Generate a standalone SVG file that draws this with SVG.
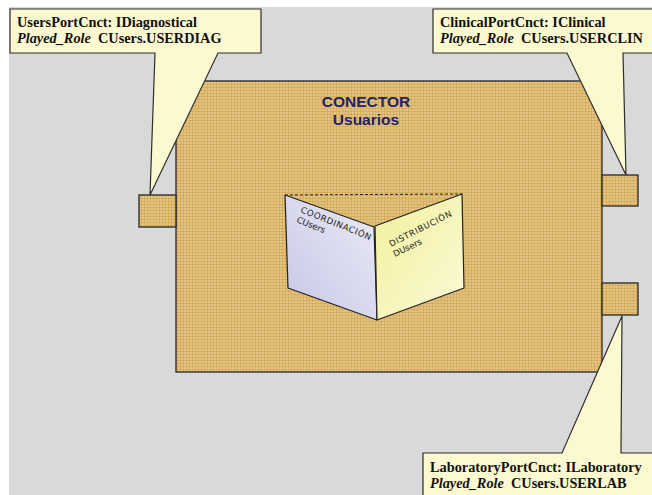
<svg xmlns="http://www.w3.org/2000/svg" width="652" height="495" viewBox="0 0 652 495">
  <style>
    .callout { fill: #fcf8d0; stroke: #2e2e2e; stroke-width: 1.2; stroke-linejoin: miter; }
    .lbl { font-family: "Liberation Serif", "Times New Roman", serif; font-size: 14.3px; font-weight: bold; fill: #111; white-space: pre; }
    .lbl .role { font-style: italic; }
    .block { fill: url(#plaid); stroke: #333; stroke-width: 1.4; }
    .title { font-family: "Liberation Sans", Arial, sans-serif; font-size: 15.5px; font-weight: bold; fill: #23236a; text-anchor: middle; }
    .page { stroke: #222; stroke-width: 1.2; stroke-linejoin: round; }
    .pagetxt { font-family: "DejaVu Sans", "Liberation Sans", sans-serif; font-size: 8.6px; fill: #222; }
    .pagehead { letter-spacing: 0.6px; }
  </style>
  <defs>
    <!-- tan checked fabric fill for the connector and its ports -->
    <pattern id="plaid" width="3" height="3" patternUnits="userSpaceOnUse">
      <rect width="3" height="3" fill="#e1c588"/>
      <rect width="3" height="1" fill="#d19e40" opacity="0.55"/>
      <rect width="1" height="3" fill="#d19e40" opacity="0.55"/>
    </pattern>
    <linearGradient id="lilac" x1="0" y1="1" x2="1" y2="0">
      <stop offset="0" stop-color="#c6c6e6"/>
      <stop offset="1" stop-color="#ebebf7"/>
    </linearGradient>
    <linearGradient id="lemon" x1="0" y1="0" x2="1" y2="1">
      <stop offset="0" stop-color="#f2f09c"/>
      <stop offset="1" stop-color="#fbfad8"/>
    </linearGradient>
  </defs>

  <!-- canvas -->
  <rect width="652" height="495" fill="#ffffff"/>
  <rect x="9" y="7" width="643" height="488" fill="#d9d9d9"/>

  <!-- connector body -->
  <g id="conector-usuarios">
    <rect class="block" x="176" y="81" width="426" height="291"/>
    <text class="title" x="366" y="107">CONECTOR</text>
    <text class="title" x="366" y="125">Usuarios</text>
  </g>

  <!-- ports -->
  <g id="port-users">
    <rect class="block" x="139" y="195" width="37" height="32"/>
  </g>
  <g id="port-clinical">
    <rect class="block" x="602" y="175" width="36" height="31"/>
  </g>
  <g id="port-laboratory">
    <rect class="block" x="602" y="283" width="36" height="32"/>
  </g>

  <!-- open book: coordination and distribution roles -->
  <g id="book">
    <line x1="285" y1="195" x2="462" y2="194" stroke="#222" stroke-width="1" stroke-dasharray="3,2"/>
    <g id="page-coordinacion">
      <polygon class="page" fill="url(#lilac)" points="285,195 374,227 377,320 288,288"/>
      <text class="pagetxt pagehead" transform="translate(300,212) rotate(22)">COORDINACIÓN</text>
      <text class="pagetxt" transform="translate(296,222) rotate(22)">CUsers</text>
    </g>
    <g id="page-distribucion">
      <polygon class="page" fill="url(#lemon)" points="375,226 462,194 464,288 377,320"/>
      <text class="pagetxt pagehead" transform="translate(391,247) rotate(-27)">DISTRIBUCIÓN</text>
      <text class="pagetxt" transform="translate(395,257) rotate(-26)">DUsers</text>
    </g>
  </g>

  <!-- callouts attached to the ports -->
  <g id="callout-users">
    <path class="callout" d="M10,9 H261 V53 H218 L150,195 L155,53 H10 Z"/>
    <text class="lbl" x="17" y="27">UsersPortCnct: IDiagnostical</text>
    <text class="lbl" x="17" y="43" xml:space="preserve"><tspan class="role">Played_Role</tspan>  CUsers.USERDIAG</text>
  </g>
  <g id="callout-clinical">
    <path class="callout" d="M433,9 H660 V53 H623 L626,175 L567,53 H433 Z"/>
    <text class="lbl" x="440" y="27">ClinicalPortCnct: IClinical</text>
    <text class="lbl" x="440" y="43" xml:space="preserve"><tspan class="role">Played_Role</tspan>  CUsers.USERCLIN</text>
  </g>
  <g id="callout-laboratory">
    <path class="callout" d="M423,500 V453 H562 L622,316 L621,453 H660 V500 Z"/>
    <text class="lbl" x="430" y="472">LaboratoryPortCnct: ILaboratory</text>
    <text class="lbl" x="430" y="488" xml:space="preserve"><tspan class="role">Played_Role</tspan>  CUsers.USERLAB</text>
  </g>
</svg>
